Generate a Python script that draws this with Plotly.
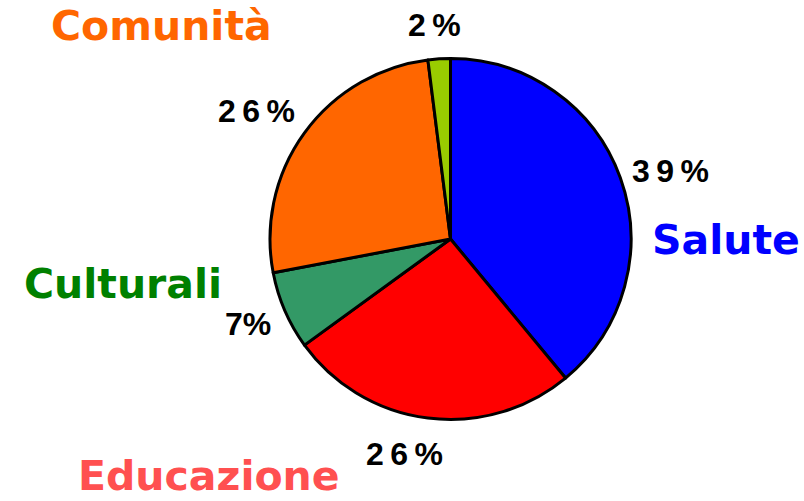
import plotly.graph_objects as go

categories = ["Salute", "Educazione", "Culturali", "Comunità", "Altro"]
values = [39, 26, 7, 26, 2]
pct_labels = ["3\u20099\u2009%", "2\u20096\u2009%", "7%", "2\u20096\u2009%", "2\u2009%"]
slice_colors = ["#0000FF", "#FF0000", "#339966", "#FF6600", "#99CC00"]
cat_colors = {"Salute": "#0000FF", "Educazione": "#FF5050", "Culturali": "#008000", "Comunità": "#FF6600"}

W, H = 804, 501
cx, cy, r = 450.5, 239, 180.5


def px2paper(px, py):
    return px / W, 1 - py / H


fig = go.Figure(go.Pie(
    labels=categories, values=values, sort=False, direction="clockwise", rotation=0,
    marker=dict(colors=slice_colors, line=dict(color="black", width=3)),
    textinfo="none", hoverinfo="label+percent", showlegend=False,
    domain=dict(x=[(cx - r) / W, (cx + r) / W], y=[1 - (cy + r) / H, 1 - (cy - r) / H]),
))

# percentage label positions (pixels)
pct_pos = [(670, 171), (405, 454), (248, 324), (256, 111), (435, 25)]
for txt, (px, py) in zip(pct_labels, pct_pos):
    x, y = px2paper(px, py)
    fig.add_annotation(x=x, y=y, xref="paper", yref="paper", text=txt,
                       showarrow=False, xanchor="center", yanchor="middle",
                       font=dict(family="Liberation Sans, Arial", size=32, color="black", weight="bold"))

cat_pos = {"Comunità": (161, 26, "middle"), "Salute": (726, 240, "middle"),
           "Culturali": (123, 284, "middle"), "Educazione": (209, 501, "bottom")}
for name, (px, py, ya) in cat_pos.items():
    x, y = px2paper(px, py)
    fig.add_annotation(x=x, y=y, xref="paper", yref="paper", text=name,
                       showarrow=False, xanchor="center", yanchor=ya, borderpad=0,
                       font=dict(family="DejaVu Sans", size=41, color=cat_colors[name], weight="bold"))

fig.update_layout(width=W, height=H, margin=dict(l=0, r=0, t=0, b=0),
                  paper_bgcolor="white", plot_bgcolor="white")
fig.write_html("out.html", config={"displayModeBar": False},
               post_script="document.body.style.margin='0';document.body.style.overflow='hidden';")
